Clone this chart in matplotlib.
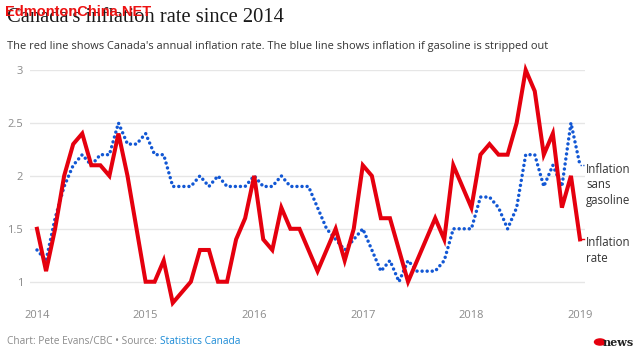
import matplotlib
matplotlib.use("Agg")
import matplotlib.pyplot as plt
import numpy as np

# Monthly data, Jan 2014 .. Jan 2019
start_year = 2014
inflation_rate = [1.5, 1.1, 1.5, 2.0, 2.3, 2.4, 2.1, 2.1, 2.0, 2.4, 2.0, 1.5,
                  1.0, 1.0, 1.2, 0.8, 0.9, 1.0, 1.3, 1.3, 1.0, 1.0, 1.4, 1.6,
                  2.0, 1.4, 1.3, 1.7, 1.5, 1.5, 1.3, 1.1, 1.3, 1.5, 1.2, 1.5,
                  2.1, 2.0, 1.6, 1.6, 1.3, 1.0, 1.2, 1.4, 1.6, 1.4, 2.1, 1.9,
                  1.7, 2.2, 2.3, 2.2, 2.2, 2.5, 3.0, 2.8, 2.2, 2.4, 1.7, 2.0,
                  1.4]
sans_gasoline = [1.3, 1.2, 1.6, 1.9, 2.1, 2.2, 2.1, 2.2, 2.2, 2.5, 2.3, 2.3,
                 2.4, 2.2, 2.2, 1.9, 1.9, 1.9, 2.0, 1.9, 2.0, 1.9, 1.9, 1.9,
                 2.0, 1.9, 1.9, 2.0, 1.9, 1.9, 1.9, 1.7, 1.5, 1.4, 1.3, 1.4,
                 1.5, 1.3, 1.1, 1.2, 1.0, 1.2, 1.1, 1.1, 1.1, 1.2, 1.5, 1.5,
                 1.5, 1.8, 1.8, 1.7, 1.5, 1.7, 2.2, 2.2, 1.9, 2.1, 1.9, 2.5,
                 2.1]
x_ticks = [2014, 2015, 2016, 2017, 2018, 2019]
y_ticks = [1, 1.5, 2, 2.5, 3]
y_tick_labels = ["1", "1.5", "2", "2.5", "3"]

title = "Canada's inflation rate since 2014"
subtitle = ("The red line shows Canada's annual inflation rate. "
            "The blue line shows inflation if gasoline is stripped out")

RED = "#e5000e"
BLUE = "#1257d4"
GREY = "#8a8a8a"

W, H = 640, 356
fig = plt.figure(figsize=(W / 100, H / 100), dpi=100)
fig.patch.set_facecolor("white")

ax_l, ax_r, ax_t, ax_b = 30, 585, 70, 308.2
ax = fig.add_axes([ax_l / W, 1 - ax_b / H, (ax_r - ax_l) / W, (ax_b - ax_t) / H])

x = start_year + np.arange(len(inflation_rate)) / 12.0

ax.plot(x, sans_gasoline, color=BLUE, lw=2.5, linestyle=(0, (0.01, 1.45)),
        dash_capstyle="round", clip_on=False, zorder=3)
ax.plot(x, inflation_rate, color=RED, lw=2.9, solid_joinstyle="miter",
        clip_on=False, zorder=4)

ax.set_xlim(2014 - 7 / 108.6, 2019 + 5 / 108.6)
ax.set_ylim(0.75, 3.0)
ax.set_xticks(x_ticks)
ax.set_xticklabels([str(t) for t in x_ticks])
ax.set_yticks(y_ticks)
ax.set_yticklabels(y_tick_labels)
ax.tick_params(axis="both", length=0, labelsize=8, labelcolor=GREY)
ax.tick_params(axis="x", pad=1)
ax.tick_params(axis="y", pad=5)
for lab in ax.get_xticklabels() + ax.get_yticklabels():
    lab.set_family("Open Sans")
ax.grid(axis="y", color="#e6e6e6", lw=1)
ax.set_axisbelow(True)
for s in ax.spines.values():
    s.set_visible(False)

# end labels
ax.plot([x[-1], x[-1] + 0.04], [sans_gasoline[-1]] * 2, color=BLUE, lw=1,
        linestyle=(0, (1, 1)), clip_on=False)
ax.plot([x[-1], x[-1] + 0.04], [inflation_rate[-1]] * 2, color=RED, lw=1,
        clip_on=False)
fig.text(586 / W, 1 - 163 / H, "Inflation\nsans\ngasoline", ha="left", va="top",
         fontsize=8.3, family="Open Sans", color="#333333", linespacing=1.25)
fig.text(586 / W, 1 - 236 / H, "Inflation\nrate", ha="left", va="top",
         fontsize=8.3, family="Open Sans", color="#333333", linespacing=1.25)

# title, subtitle
fig.text(7 / W, 1 - 18 / H, title, ha="left", va="center", fontsize=14.8,
         family="Liberation Serif", color="#1a1a1a")
fig.text(5 / W, 1 - 12 / H, "EdmontonChina.NET", ha="left", va="center",
         fontsize=10.5, family="Liberation Sans", weight="bold", color="#ee1111")
fig.text(7 / W, 1 - 47 / H, subtitle, ha="left", va="center", fontsize=7.9,
         family="Open Sans", color="#333333")

# footer
t1 = fig.text(7 / W, 1 - 342 / H, "Chart: Pete Evans/CBC \u2022 Source: ", ha="left",
              va="center", fontsize=7.3, family="Open Sans", color=GREY)
fig.canvas.draw()
bb = t1.get_window_extent()
fig.text(bb.x1 / W, 1 - 342 / H, "Statistics Canada", ha="left", va="center",
         fontsize=7.3, family="Open Sans", color="#1a8ad6")
fig.text(634 / W, 1 - 342 / H, "news", ha="right", va="center", fontsize=8,
         family="DejaVu Serif", weight="bold", color="#222222")
fig.patches.append(matplotlib.patches.Circle((600 / W, 1 - 342 / H), 5.5 / W,
                   transform=fig.transFigure, color=RED, figure=fig))

fig.savefig("out.png", dpi=100, facecolor="white")
